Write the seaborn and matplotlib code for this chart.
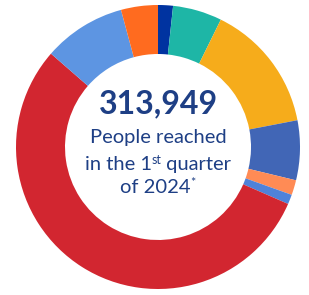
import matplotlib
matplotlib.use("Agg")
import matplotlib.pyplot as plt
import seaborn as sns

# Share of people reached per group (percent)
groups = ["Navy", "Teal", "Yellow", "Steel blue", "Light orange",
          "Small blue", "Red", "Light blue", "Orange"]
shares = [1.7, 5.6, 14.7, 6.8, 1.7, 1.1, 54.9, 9.4, 4.2]
colors = ["#0033A0", "#1EB6A6", "#F6AC1B", "#4166B6", "#FF8B55",
          "#4F82D9", "#D22630", "#5D95E2", "#FF6B1F"]

total_label = "313,949"
text_color = "#1E3F85"

sns.set_theme(style="white")
plt.rcParams["font.family"] = ["Lato", "DejaVu Sans"]

fig = plt.figure(figsize=(3.09, 2.95), dpi=100)
W, H = 309, 295
cx, cy, r_out, r_in = 158, 147, 142, 93
ax = fig.add_axes([(cx - r_out) / W, (H - cy - r_out) / H, 2 * r_out / W, 2 * r_out / H])

ax.pie(shares, colors=sns.color_palette(colors), startangle=90, counterclock=False,
       radius=1, wedgeprops=dict(width=(r_out - r_in) / r_out, linewidth=0))
ax.set_xlim(-1, 1)
ax.set_ylim(-1, 1)
ax.axis("off")


def px(x, y):
    # pixel coords (from top-left) -> figure fraction
    return x / W, 1 - y / H


fig.text(*px(cx, 104), total_label, ha="center", va="center",
         fontsize=23, fontweight="bold", color=text_color)
fig.text(*px(cx, 137), "People reached", ha="center", va="center",
         fontsize=14.5, color=text_color)


def rich_line(pieces, y):
    # pieces: list of (text, is_superscript); laid out then centred on cx
    arts = []
    for txt, sup in pieces:
        t = fig.text(0, 0, txt, fontsize=9 if sup else 14.5, color=text_color,
                     ha="left", va="baseline")
        arts.append((t, sup))
    fig.canvas.draw()
    r = fig.canvas.get_renderer()
    widths = [a.get_window_extent(r).width for a, _ in arts]
    x = cx - sum(widths) / 2
    for (a, sup), w in zip(arts, widths):
        a.set_position(px(x, y - (6 if sup else 0)))
        x += w


rich_line([("in the 1", False), ("st", True), (" quarter", False)], 170)
rich_line([("of 2024", False), ("*", True)], 193)

fig.savefig("out.png", dpi=100)
